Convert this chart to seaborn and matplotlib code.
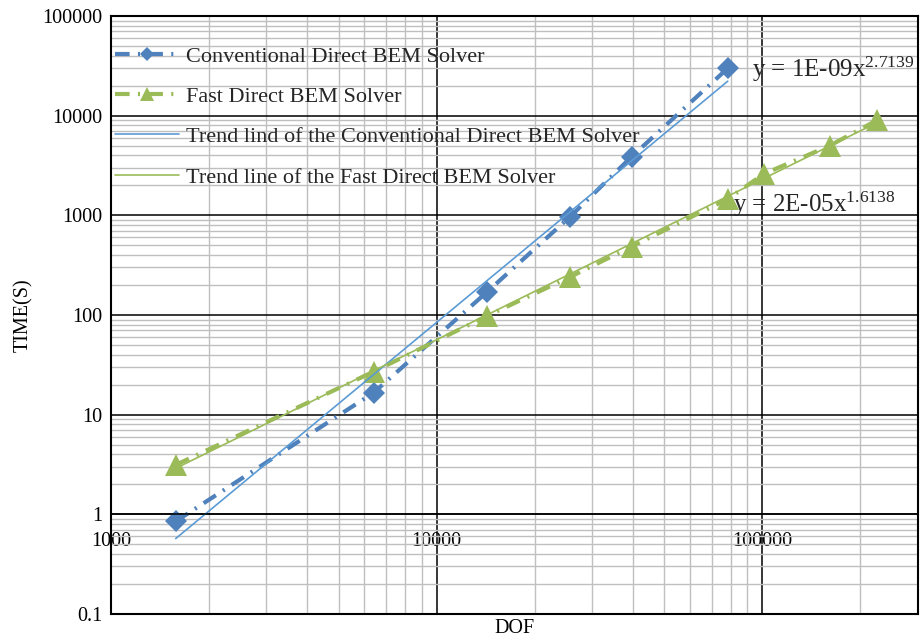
import numpy as np
import pandas as pd
import seaborn as sns
import matplotlib
matplotlib.use('Agg')
import matplotlib.pyplot as plt
from matplotlib.ticker import LogLocator, NullFormatter, FuncFormatter

sns.set_theme(style="white")
plt.rcParams['font.family'] = ['Liberation Serif', 'DejaVu Serif']
plt.rcParams['mathtext.fontset'] = 'custom'
plt.rcParams['mathtext.rm'] = 'Liberation Serif'
plt.rcParams['mathtext.default'] = 'regular'

# data
dof_conv = [1580, 6400, 14300, 25700, 39700, 78300]
time_conv = [0.85, 16.6, 171, 970, 3880, 29900]
dof_fast = [1580, 6400, 14300, 25700, 39700, 78300, 101000, 161000, 225000]
time_fast = [3.13, 27, 98, 241, 486, 1460, 2600, 5000, 9000]

labels = ['Conventional Direct BEM Solver',
          'Fast Direct BEM Solver',
          'Trend lind of the Conventional Direct BEM Solver',
          'Trend line of the Fast Direct BEM Solver']
eq_conv = r'y = 1E-09x$^{2.7139}$'
eq_fast = r'y = 2E-05x$^{1.6138}$'

blue = '#4F81BD'
green = '#9BBB59'
blue_trend = '#5B9BD5'


def power_trend(x, y):
    # power-law trend line, fitted in log space like Excel does
    b, loga = np.polyfit(np.log10(x), np.log10(y), 1)
    xs = np.geomspace(min(x), max(x), 50)
    return pd.DataFrame({'DOF': xs, 'TIME': 10 ** loga * xs ** b})


df_conv = pd.DataFrame({'DOF': dof_conv, 'TIME': time_conv})
df_fast = pd.DataFrame({'DOF': dof_fast, 'TIME': time_fast})
tr_conv = power_trend(dof_conv, time_conv)
tr_fast = power_trend(dof_fast, time_fast)

fig = plt.figure(figsize=(9.23, 6.43), dpi=100)
ax = fig.add_axes([111 / 923, 1 - 614 / 643, 807 / 923, 598 / 643])
ax.set_xscale('log')
ax.set_yscale('log')

dash_dot = (0, (3.5, 2, 0.5, 2))
sns.lineplot(data=df_conv, x='DOF', y='TIME', color=blue, linewidth=3, linestyle=dash_dot,
             marker='D', markersize=11.5, markeredgewidth=0, label=labels[0], ax=ax)
sns.lineplot(data=df_fast, x='DOF', y='TIME', color=green, linewidth=3, linestyle=dash_dot,
             marker='^', markersize=16, markeredgewidth=0, label=labels[1], ax=ax)
sns.lineplot(data=tr_conv, x='DOF', y='TIME', color=blue_trend, linewidth=1.2,
             label=labels[2], ax=ax)
sns.lineplot(data=tr_fast, x='DOF', y='TIME', color=green, linewidth=1.2,
             label=labels[3], ax=ax)

ax.set_xlim(1000, 300600)
ax.set_ylim(0.1, 100000)

# grid
ax.set_axisbelow(True)
for axis in (ax.xaxis, ax.yaxis):
    axis.set_major_locator(LogLocator(base=10, numticks=20))
    axis.set_minor_locator(LogLocator(base=10, subs=np.arange(2, 10), numticks=100))
    axis.set_minor_formatter(NullFormatter())
    axis.set_major_formatter(FuncFormatter(lambda v, p: '%g' % v))
ax.grid(which='minor', color='#BFBFBF', linewidth=1.0)
ax.grid(which='major', color='black', linewidth=1.1)
ax.set_xticks([1000, 10000, 100000])
ax.set_yticks([0.1, 1, 10, 100, 1000, 10000, 100000])
ax.set_xlim(1000, 300600)
ax.set_ylim(0.1, 100000)

# x axis crosses at y = 1 like in Excel
for s in ax.spines.values():
    s.set_color('black')
    s.set_linewidth(1.5)
ax.spines['bottom'].set_position(('data', 1))
ax.spines['bottom'].set_linewidth(1.1)
ax.axhline(0.1, color='black', linewidth=1.5, clip_on=False)

ax.tick_params(axis='both', which='both', length=0, labelsize=14.5, colors='black')
ax.tick_params(axis='x', pad=13)
ax.tick_params(axis='y', pad=6)

ax.set_xlabel('DOF', fontsize=14.5, color='black')
ax.set_ylabel('TIME(S)', fontsize=14.5, color='black')
ax.xaxis.set_label_coords(0.5, -0.008)
ax.yaxis.set_label_coords(-0.097, 0.5)

ax.text(93100, 24400, eq_conv, fontsize=18, va='baseline', ha='left')
ax.text(81100, 1075, eq_fast, fontsize=18, va='baseline', ha='left')

handles, labs = ax.get_legend_handles_labels()
ax.legend(handles, labs, loc='upper left', bbox_to_anchor=(-0.0074, 0.9666), frameon=False,
          fontsize=16, handlelength=2.9, handletextpad=0.3, labelspacing=0.89,
          markerscale=0.65, borderaxespad=0.15, borderpad=0.3)

fig.savefig('out.png', dpi=100)
